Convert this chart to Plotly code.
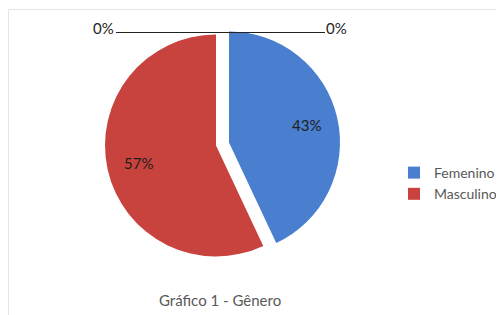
import math
import plotly.graph_objects as go

categories = ["Femenino", "Masculino"]
values = [43, 57]
colors = ["#4a7ecf", "#c8423e"]
zero_categories = ["Outro A", "Outro B"]
zero_values = [0, 0]
title_text = "Gráfico 1 - Gênero"

FONT = "Lato, 'Liberation Sans', sans-serif"

# figure is placed inside the page body (8px default margin)
W, H = 496, 307
OFF = 8


def px(x):
    return (x - OFF) / W


def py(y):
    return 1 - (y - OFF) / H


PULL = 0.06
cx, cy = 222.5, 144.0          # pie centre in page pixels
half = 117.65                  # half of domain size in pixels
r = half / (1 + PULL)

fig = go.Figure()
fig.add_trace(go.Pie(
    labels=categories,
    values=values,
    marker=dict(colors=colors, line=dict(width=0)),
    sort=False,
    direction="clockwise",
    rotation=0,
    pull=[PULL] * len(values),
    textinfo="none",
    domain=dict(x=[px(cx - half), px(cx + half)], y=[py(cy + half), py(cy - half)]),
    hoverinfo="label+percent",
))

# percentage labels placed along each slice bisector
total = sum(values) + sum(zero_values)
cum = 0
for v in values:
    theta = math.radians(360 * (cum + v / 2) / total)
    dist = r * (PULL + 0.72)
    lx = cx + math.sin(theta) * dist
    ly = cy - math.cos(theta) * dist
    fig.add_annotation(x=px(lx), y=py(ly), xref="paper", yref="paper",
                       text=f"{v / total:.0%}", showarrow=False,
                       xanchor="center", yanchor="middle",
                       font=dict(family=FONT, size=15, color="#1e1e1e"))
    cum += v

# zero-valued categories shown as labels joined by a leader line above the pie
zl = [f"{v / total:.0%}" for v in zero_values]
fig.add_annotation(x=px(116), y=py(27.5), xref="paper", yref="paper",
                   text=zl[0], showarrow=False, xanchor="right", yanchor="middle",
                   font=dict(family=FONT, size=15, color="#1e1e1e"))
fig.add_annotation(x=px(324), y=py(27.5), xref="paper", yref="paper",
                   text=zl[1], showarrow=False, xanchor="left", yanchor="middle",
                   font=dict(family=FONT, size=15, color="#1e1e1e"))
fig.add_shape(type="line", xref="paper", yref="paper",
              x0=px(116), x1=px(325), y0=py(32.5), y1=py(32.5),
              line=dict(color="#222222", width=1))

# chart border (faint)
fig.add_shape(type="rect", xref="paper", yref="paper",
              x0=0.5 / W, x1=1.02, y0=-0.02, y1=1 - 1.5 / H,
              line=dict(color="#e6e6e6", width=1), layer="below")

fig.add_annotation(x=px(220), y=py(300), xref="paper", yref="paper",
                   text=title_text, showarrow=False,
                   xanchor="center", yanchor="middle",
                   font=dict(family=FONT, size=15, color="#595959"))

fig.update_layout(
    width=W, height=H,
    margin=dict(l=0, r=0, t=0, b=0),
    paper_bgcolor="white",
    plot_bgcolor="white",
    showlegend=True,
    legend=dict(x=px(394), y=py(183.5), xanchor="left", yanchor="middle",
                font=dict(family=FONT, size=14, color="#595959"),
                bgcolor="rgba(0,0,0,0)", tracegroupgap=0),
)

fig.write_html("out.html")
